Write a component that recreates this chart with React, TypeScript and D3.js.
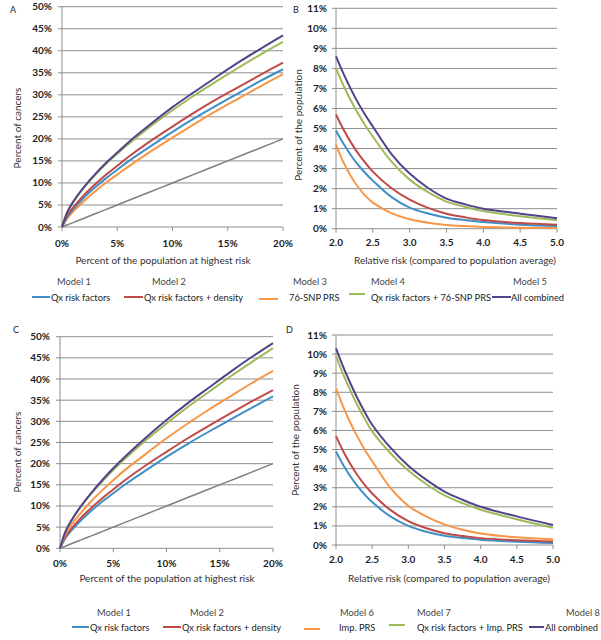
import React from "react";
import * as d3 from "d3";

// ---------- DATA ----------
// Concentration curves (x: % of population at highest risk, y: % of cancers)
const concX = [0, 0.5, 1, 2, 3, 4, 5, 6, 8, 10, 12, 14, 16, 18, 20];
const aModel1 = [0, 2.4, 4.0, 6.7, 9.0, 11.1, 13.0, 14.9, 18.3, 21.6, 24.7, 27.6, 30.4, 33.2, 35.8];
const aModel2 = [0, 2.7, 4.4, 7.3, 9.7, 11.9, 13.9, 15.9, 19.5, 22.8, 26.0, 29.0, 31.8, 34.6, 37.3];
const aModel3 = [0, 2.0, 3.5, 5.9, 8.1, 10.1, 11.9, 13.7, 17.1, 20.3, 23.4, 26.4, 29.2, 32.0, 34.7];
const aModel4 = [0, 3.45, 5.6, 9.0, 11.8, 14.4, 16.6, 18.8, 22.8, 26.5, 29.9, 33.1, 36.2, 39.2, 42.0];
const aModel5 = [0, 3.5, 5.7, 9.1, 12.0, 14.6, 16.9, 19.2, 23.3, 27.2, 30.7, 34.1, 37.4, 40.5, 43.5];
const cModel1 = [0, 2.4, 4.0, 6.7, 9.0, 11.1, 13.0, 14.9, 18.3, 21.6, 24.7, 27.6, 30.4, 33.2, 35.9];
const cModel2 = [0, 2.7, 4.4, 7.3, 9.7, 11.9, 13.9, 15.9, 19.5, 22.8, 26.0, 29.0, 31.9, 34.7, 37.4];
const cModel6 = [0, 3.3, 5.3, 8.5, 11.3, 13.8, 16.1, 18.3, 22.2, 26.0, 29.5, 32.8, 35.9, 39.0, 41.9];
const cModel7 = [0, 3.9, 6.2, 10.0, 13.1, 15.9, 18.5, 20.9, 25.4, 29.5, 33.4, 37.0, 40.6, 44.0, 47.3];
const cModel8 = [0, 3.9, 6.3, 10.1, 13.3, 16.2, 18.9, 21.4, 26.0, 30.3, 34.3, 38.0, 41.7, 45.2, 48.5];
const diagonal = [0, 0.5, 1, 2, 3, 4, 5, 6, 8, 10, 12, 14, 16, 18, 20];

// Relative-risk curves (x: relative risk, y: % of population)
const rrX = [2.0, 2.1, 2.2, 2.3, 2.4, 2.5, 2.75, 3.0, 3.25, 3.5, 3.75, 4.0, 4.5, 5.0];
const bModel1 = [4.9, 4.25, 3.68, 3.19, 2.77, 2.4, 1.59, 1.05, 0.76, 0.55, 0.43, 0.33, 0.2, 0.13];
const bModel2 = [5.7, 4.96, 4.32, 3.76, 3.28, 2.85, 2.03, 1.45, 1.04, 0.75, 0.57, 0.43, 0.28, 0.2];
const bModel3 = [4.2, 3.32, 2.63, 2.08, 1.64, 1.3, 0.78, 0.47, 0.3, 0.19, 0.13, 0.09, 0.05, 0.03];
const bModel4 = [8.0, 7.16, 6.41, 5.74, 5.14, 4.6, 3.36, 2.45, 1.82, 1.35, 1.09, 0.88, 0.62, 0.42];
const bModel5 = [8.6, 7.75, 6.98, 6.28, 5.66, 5.1, 3.74, 2.75, 2.03, 1.5, 1.22, 1.0, 0.75, 0.52];
const dModel1 = [4.9, 4.19, 3.59, 3.07, 2.63, 2.25, 1.5, 1.0, 0.69, 0.48, 0.37, 0.28, 0.17, 0.1];
const dModel2 = [5.7, 4.91, 4.23, 3.64, 3.13, 2.7, 1.84, 1.25, 0.88, 0.62, 0.47, 0.36, 0.25, 0.18];
const dModel6 = [8.2, 7.24, 6.39, 5.65, 4.98, 4.4, 3.0, 2.05, 1.49, 1.08, 0.8, 0.6, 0.4, 0.3];
const dModel7 = [9.9, 8.94, 8.07, 7.29, 6.59, 5.95, 4.82, 3.9, 3.18, 2.6, 2.19, 1.85, 1.35, 0.9];
const dModel8 = [10.3, 9.33, 8.46, 7.66, 6.94, 6.3, 5.11, 4.15, 3.41, 2.8, 2.37, 2.0, 1.5, 1.05];

const concYTicks = [0, 5, 10, 15, 20, 25, 30, 35, 40, 45, 50];
const concXTicks = [0, 5, 10, 15, 20];
const rrYTicks = [0, 1, 2, 3, 4, 5, 6, 7, 8, 9, 10, 11];
const rrXTicks = [2.0, 2.5, 3.0, 3.5, 4.0, 4.5, 5.0];

const legend1Models = ["Model 1", "Model 2", "Model 3", "Model 4", "Model 5"];
const legend1Labels = ["Qx risk factors", "Qx risk factors + density", "76-SNP PRS", "Qx risk factors + 76-SNP PRS", "All combined"];
const legend2Models = ["Model 1", "Model 2", "Model 6", "Model 7", "Model 8"];
const legend2Labels = ["Qx risk factors", "Qx risk factors + density", "Imp. PRS", "Qx risk factors + Imp. PRS", "All combined"];

// ---------- STYLE ----------
const BLUE = "#3f8fc6";
const RED = "#be4b48";
const ORANGE = "#f79646";
const GREEN = "#9bbb59";
const PURPLE = "#54428a";
const DIAG = "#7f7f7f";
const GRID = "#8e8e8e";
const FONT = "Lato, 'Open Sans', sans-serif";
const colors = [BLUE, RED, ORANGE, GREEN, PURPLE];

type Series = { ys: number[]; color: string; width?: number };

type PanelProps = {
  xs: number[];
  series: Series[];
  xDomain: [number, number];
  yDomain: [number, number];
  xRange: [number, number];
  yRange: [number, number];
  xTicks: number[];
  yTicks: number[];
  xFmt: (v: number) => string;
  yFmt: (v: number) => string;
  xLabelY: number;
  yLabelX: number;
  xTitle: string;
  xTitlePos: [number, number];
  yTitle: string;
  yTitlePos: [number, number];
  letter: string;
  letterPos: [number, number];
};

function Panel(p: PanelProps) {
  const x = d3.scaleLinear().domain(p.xDomain).range(p.xRange);
  const y = d3.scaleLinear().domain(p.yDomain).range(p.yRange);
  const line = d3
    .line<number>()
    .x((_, i) => x(p.xs[i]))
    .y((d) => y(d))
    .curve(d3.curveCatmullRom.alpha(0.5));
  const [x0, x1] = p.xRange;
  const y0 = p.yRange[0];
  return (
    <g>
      {p.yTicks.map((t) => (
        <g key={"gy" + t}>
          {t !== 0 && (
            <line x1={x0} x2={x1} y1={y(t)} y2={y(t)} stroke={GRID} strokeWidth={1} />
          )}
          <line x1={x0 - 4} x2={x0} y1={y(t)} y2={y(t)} stroke={GRID} strokeWidth={1} />
          <text
            x={p.yLabelX}
            y={y(t)}
            dy="0.35em"
            textAnchor="end"
            fontFamily={FONT}
            fontWeight="bold"
            fontSize={10}
            fill="#222"
          >
            {p.yFmt(t)}
          </text>
        </g>
      ))}
      <line x1={x0} x2={x0} y1={y0 + 0.5} y2={p.yRange[1]} stroke={GRID} strokeWidth={1} />
      <line x1={x0} x2={x1} y1={y0} y2={y0} stroke={GRID} strokeWidth={1} />
      {p.xTicks.map((t) => (
        <g key={"gx" + t}>
          <line x1={x(t)} x2={x(t)} y1={y0} y2={y0 + 4} stroke={GRID} strokeWidth={1} />
          <text
            x={x(t)}
            y={p.xLabelY}
            dy="0.35em"
            textAnchor="middle"
            fontFamily={FONT}
            fontWeight="bold"
            fontSize={10}
            fill="#222"
          >
            {p.xFmt(t)}
          </text>
        </g>
      ))}
      {p.series.map((s, i) => (
        <path
          key={"s" + i}
          d={line(s.ys) || ""}
          fill="none"
          stroke={s.color}
          strokeWidth={s.width ?? 2}
          strokeLinejoin="round"
        />
      ))}
      <text
        x={p.xTitlePos[0]}
        y={p.xTitlePos[1]}
        dy="0.35em"
        textAnchor="middle"
        fontFamily={FONT}
        fontSize={10}
        fill="#333"
      >
        {p.xTitle}
      </text>
      <text
        transform={`translate(${p.yTitlePos[0]},${p.yTitlePos[1]}) rotate(-90)`}
        dy="0.35em"
        textAnchor="middle"
        fontFamily={FONT}
        fontSize={10}
        fill="#333"
      >
        {p.yTitle}
      </text>
      <text
        x={p.letterPos[0]}
        y={p.letterPos[1]}
        dy="0.35em"
        fontFamily={FONT}
        fontSize={9}
        fill="#222"
      >
        {p.letter}
      </text>
    </g>
  );
}

type LegendPos = { mx: number; lx1: number; lx2: number; ly: number; tx: number };

function Legend({
  models,
  labels,
  pos,
  modelY,
  itemY,
}: {
  models: string[];
  labels: string[];
  pos: LegendPos[];
  modelY: number;
  itemY: number;
}) {
  return (
    <g>
      {models.map((m, i) => (
        <g key={m + i}>
          <text x={pos[i].mx} y={modelY} dy="0.35em" textAnchor="middle" fontFamily={FONT} fontSize={9.3} fill="#444">
            {m}
          </text>
          <line x1={pos[i].lx1} x2={pos[i].lx2} y1={pos[i].ly} y2={pos[i].ly} stroke={colors[i]} strokeWidth={2} />
          <text x={pos[i].tx} y={itemY} dy="0.35em" fontFamily={FONT} fontSize={9.3} fill="#222">
            {labels[i]}
          </text>
        </g>
      ))}
    </g>
  );
}

const pct = (v: number) => `${v}%`;
const fix1 = (v: number) => v.toFixed(1);

export default function App() {
  const aSeries: Series[] = [
    { ys: diagonal, color: DIAG, width: 1.5 },
    { ys: aModel3, color: ORANGE },
    { ys: aModel1, color: BLUE },
    { ys: aModel2, color: RED },
    { ys: aModel4, color: GREEN },
    { ys: aModel5, color: PURPLE },
  ];
  const bSeries: Series[] = [
    { ys: bModel3, color: ORANGE },
    { ys: bModel1, color: BLUE },
    { ys: bModel2, color: RED },
    { ys: bModel4, color: GREEN },
    { ys: bModel5, color: PURPLE },
  ];
  const cSeries: Series[] = [
    { ys: diagonal, color: DIAG, width: 1.5 },
    { ys: cModel1, color: BLUE },
    { ys: cModel2, color: RED },
    { ys: cModel6, color: ORANGE },
    { ys: cModel7, color: GREEN },
    { ys: cModel8, color: PURPLE },
  ];
  const dSeries: Series[] = [
    { ys: dModel1, color: BLUE },
    { ys: dModel2, color: RED },
    { ys: dModel6, color: ORANGE },
    { ys: dModel7, color: GREEN },
    { ys: dModel8, color: PURPLE },
  ];
  const legend1Pos: LegendPos[] = [
    { mx: 74, lx1: 32, lx2: 50, ly: 297, tx: 51 },
    { mx: 169, lx1: 124, lx2: 143, ly: 297, tx: 144 },
    { mx: 310, lx1: 259, lx2: 278, ly: 299, tx: 289 },
    { mx: 388, lx1: 349, lx2: 365, ly: 294, tx: 371 },
    { mx: 530, lx1: 492, lx2: 511, ly: 297, tx: 511 },
  ];
  const legend2Pos: LegendPos[] = [
    { mx: 114, lx1: 72, lx2: 89, ly: 627, tx: 90 },
    { mx: 207, lx1: 163, lx2: 181, ly: 627, tx: 182 },
    { mx: 357, lx1: 304, lx2: 320, ly: 629, tx: 339 },
    { mx: 434, lx1: 389, lx2: 405, ly: 625, tx: 417 },
    { mx: 583, lx1: 529, lx2: 544, ly: 627, tx: 545 },
  ];
  return (
    <svg
      width={601}
      height={640}
      style={{ position: "absolute", left: 0, top: 0, background: "#fff" }}
    >
      <rect width={601} height={640} fill="#fff" />
      <Panel
        xs={concX}
        series={aSeries}
        xDomain={[0, 20]}
        yDomain={[0, 50]}
        xRange={[62, 283]}
        yRange={[227, 6.7]}
        xTicks={concXTicks}
        yTicks={concYTicks}
        xFmt={pct}
        yFmt={pct}
        xLabelY={243}
        yLabelX={52}
        xTitle="Percent of the population at highest risk"
        xTitlePos={[163, 260]}
        yTitle="Percent of cancers"
        yTitlePos={[17, 128]}
        letter="A"
        letterPos={[10, 10]}
      />
      <Panel
        xs={rrX}
        series={bSeries}
        xDomain={[2, 5]}
        yDomain={[0, 11]}
        xRange={[336, 557]}
        yRange={[228.7, 8.3]}
        xTicks={rrXTicks}
        yTicks={rrYTicks}
        xFmt={fix1}
        yFmt={pct}
        xLabelY={242}
        yLabelX={327}
        xTitle="Relative risk (compared to population average)"
        xTitlePos={[455, 260]}
        yTitle="Percent of the population"
        yTitlePos={[298, 125]}
        letter="B"
        letterPos={[293, 10]}
      />
      <Panel
        xs={concX}
        series={cSeries}
        xDomain={[0, 20]}
        yDomain={[0, 50]}
        xRange={[60, 273]}
        yRange={[548.3, 336.7]}
        xTicks={concXTicks}
        yTicks={concYTicks}
        xFmt={pct}
        yFmt={pct}
        xLabelY={563}
        yLabelX={50}
        xTitle="Percent of the population at highest risk"
        xTitlePos={[167, 578]}
        yTitle="Percent of cancers"
        yTitlePos={[17, 452]}
        letter="C"
        letterPos={[13, 330]}
      />
      <Panel
        xs={rrX}
        series={dSeries}
        xDomain={[2, 5]}
        yDomain={[0, 11]}
        xRange={[336, 553]}
        yRange={[545, 335]}
        xTicks={rrXTicks}
        yTicks={rrYTicks}
        xFmt={fix1}
        yFmt={pct}
        xLabelY={559}
        yLabelX={327}
        xTitle="Relative risk (compared to population average)"
        xTitlePos={[449, 578]}
        yTitle="Percent of the population"
        yTitlePos={[295, 440]}
        letter="D"
        letterPos={[286, 330]}
      />
      <Legend models={legend1Models} labels={legend1Labels} pos={legend1Pos} modelY={282} itemY={298} />
      <Legend models={legend2Models} labels={legend2Labels} pos={legend2Pos} modelY={613} itemY={628} />
    </svg>
  );
}
